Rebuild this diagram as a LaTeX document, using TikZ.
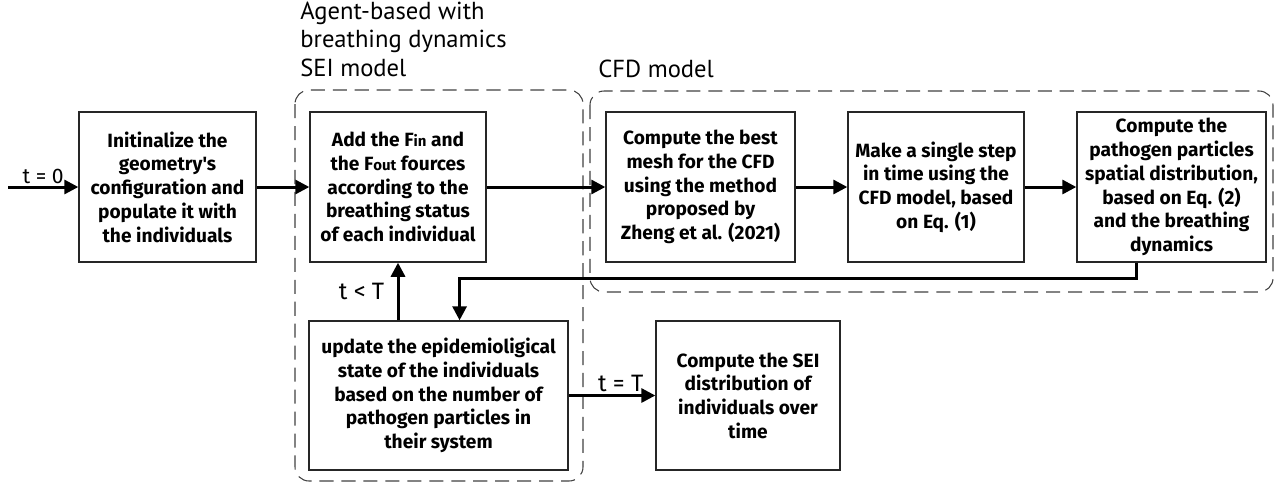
\documentclass[tikz,border=0pt]{standalone}
\usepackage{fontspec}
\setmainfont{Fira Sans}
\newfontfamily\boxfont{Fira Sans}
\newfontfamily\lblfont{PT Sans}
\usetikzlibrary{arrows.meta}

\tikzset{
  stage/.style={draw=black!85, line width=0.8pt, align=center, inner sep=2pt,
    font=\boxfont\bfseries\fontsize{10.9}{13.5}\selectfont},
  flow/.style={line width=1.7pt, -{Triangle[length=8pt,width=8pt]}},
  grp/.style={draw=black!75, line width=0.6pt, dash pattern=on 8pt off 4.5pt, rounded corners=8pt},
  grplabel/.style={anchor=north west, align=left, inner sep=0pt,
    font=\lblfont\fontsize{14}{16}\selectfont},
  cond/.style={font=\fontsize{13.5}{15}\selectfont, inner sep=1pt}
}

\begin{document}
\begin{tikzpicture}[x=0.02cm, y=-0.02cm]
\useasboundingbox (0,0) rectangle (1283,485);

% Groups
\draw[grp] (295,90) rectangle (583,481);
\draw[grp] (590,91) rectangle (1273,292);
\node[grplabel] (seilbl) at (300,2) {Agent-based with\\breathing dynamics\\SEI model};
\node[grplabel] (cfdlbl) at (598,60) {CFD model};

% Stages
\node[stage, minimum width=3.54cm, minimum height=3cm] (init) at (167.5,187)
  {Initinalize the\\geometry's\\configuration and\\populate it with\\the individuals};
\node[stage, minimum width=3.52cm, minimum height=3cm] (add) at (398,187)
  {Add the F{\fontsize{8.5}{9}\selectfont in} and\\the F{\fontsize{8.5}{9}\selectfont out} fources\\according to the\\breathing status\\of each individual};
\node[stage, minimum width=3.78cm, minimum height=3cm] (mesh) at (700.5,187)
  {Compute the best\\mesh for the CFD\\using the method\\proposed by\\Zheng et al. (2021)};
\node[stage, minimum width=3.52cm, minimum height=3cm] (step) at (936,187)
  {Make a single step\\in time using the\\CFD model, based\\on Eq. (1)};
\node[stage, minimum width=3.78cm, minimum height=3cm] (part) at (1171.5,187)
  {Compute the\\pathogen particles\\spatial distribution,\\based on Eq. (2)\\and the breathing\\dynamics};
\node[stage, minimum width=5.18cm, minimum height=2.98cm] (upd) at (438.5,395.5)
  {update the epidemioligical\\state of the individuals\\based on the number of\\pathogen particles in\\their system};
\node[stage, minimum width=3.68cm, minimum height=2.98cm] (sei) at (748,395.5)
  {Compute the SEI\\distribution of\\individuals over\\time};

% Connectors
\coordinate (start) at (8,187);
\draw[flow] (start) -- (init) node[cond, midway, above, font=\fontsize{12}{13}\selectfont] (t0) {t = 0};
\draw[flow] (init) -- (add);
\draw[flow] (add) -- (mesh);
\draw[flow] (mesh) -- (step);
\draw[flow] (step) -- (part);
\draw[flow] ([xshift=-20]part.south) -- ++(0,16) -| ([xshift=12]upd.north);
\draw[flow] (add.south |- upd.north) -- (add.south) node[cond, midway, left=6pt] (tlt) {t < T};
\draw[flow] (upd) -- (sei) node[cond, pos=0.6, above] (teq) {t = T};
\end{tikzpicture}
\end{document}
